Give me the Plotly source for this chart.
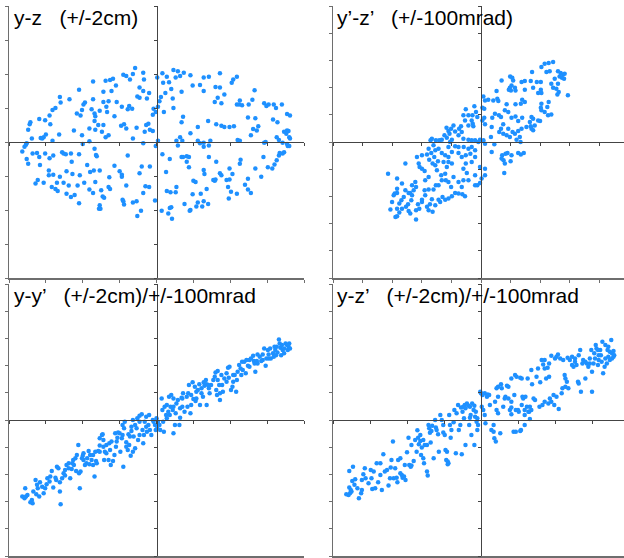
import plotly.graph_objects as go

# ---------------- data ----------------
# panel 1: y-z (cm)
yz_y = [-0.29,-0.32,-0.18,-0.41,-0.45,-0.36,-0.17,-0.59,-0.63,-0.69,-0.55,-0.86,-0.61,-1.05,-0.72,-0.23,-0.18,-0.10,-0.26,-0.23,
        -0.13,-1.31,-1.18,-0.72,-0.65,-0.54,-0.86,-0.97,-0.99,-1.30,-1.37,-1.41,-0.68,-0.47,-0.37,-0.33,-0.39,-0.88,-1.01,-0.84,
        -0.83,-1.03,-1.08,-0.57,-0.67,-0.77,-0.04,-0.05,-1.45,-1.51,-1.59,-1.44,-1.71,-1.72,-1.74,-1.12,-0.91,-0.83,-0.79,-0.72,
        -0.74,-0.48,-0.44,-0.41,-0.27,-0.14,-0.11,-0.09,-0.05,-0.16,-1.32,-1.53,-1.57,-1.55,-1.50,-1.69,-1.41,-0.91,-0.69,-0.65,
        -0.32,-0.84,-1.01,
        0.23,0.29,0.37,0.08,0.01,0.14,0.26,0.32,0.46,0.64,0.71,0.86,1.04,1.09,1.02,0.09,0.17,0.12,0.06,0.20,
        0.34,0.49,0.59,0.64,0.80,0.86,0.83,0.92,0.79,0.88,1.13,1.33,1.30,1.09,1.12,1.16,1.25,1.46,1.49,1.52,
        1.59,1.70,1.62,0.04,0.02,0.22,0.23,-0.01,0.10,0.36,0.34,0.56,0.70,0.81,0.88,0.92,0.99,1.05,1.24,1.34,
        1.38,1.31,1.28,1.36,1.58,1.64,1.77,1.81,1.77,1.79,1.76,1.73,1.80,1.81,1.66,1.63,1.48,0.32,0.46,0.56,
        0.73,0.64,1.10,1.13,0.02,0.27,1.71,1.80,
        -1.82,-1.77,-1.76,-1.79,-1.76,-1.74,-1.68,-1.62,-1.59,-1.58,-1.51,-1.45,-1.40,-1.46,-1.46,-1.40,-1.64,-1.61,-1.35,-1.42,
        -1.34,-1.37,-1.28,-1.26,-1.23,-1.16,-1.05,-1.00,-1.15,-1.22,-1.14,-1.19,-1.07,-1.04,-0.98,-0.94,-0.90,-0.84,-0.82,-0.81,
        -0.77,-0.85,-0.83,-0.75,-0.73,-0.71,-0.77,-0.78,-0.76,-0.65,-0.63,-0.64,-0.57,-0.50,-0.47,-0.47,-0.41,-0.46,-0.45,-0.44,
        -0.39,-0.20,-0.23,-0.15,-0.18,-0.10,-0.32,-0.27,-0.21,-0.26,-0.02,-0.09,-0.01,-0.18,-1.11,-1.16,-1.05,-0.91,-0.86,-1.26,
        -1.22,-1.53,-1.31,
        0.08,0.13,0.18,0.29,0.34,0.36,0.41,0.44,0.41,0.44,0.49,0.50,0.53,0.59,0.64,0.71,0.64,0.65,0.60,0.56,
        0.64,0.68,0.70,0.71,0.77,0.79,0.80,0.81,0.86,0.88,0.95,0.99,0.97,1.01,1.09,1.03,0.99,1.13,1.24,1.20,
        1.24,1.14,1.34,1.42,1.45,1.51,1.57,1.60,1.63,1.66,1.71,1.73,1.78,1.67,0.07,0.16,0.20,0.18,0.21,0.27,
        0.14,0.19,0.26,0.38,0.46,0.45,0.54,0.62,0.98,1.28,0.35,1.46,1.77]
yz_z = [1.09,1.00,1.02,0.97,0.99,0.92,0.92,0.93,0.91,0.90,0.83,0.89,0.75,0.77,0.74,0.80,0.75,0.72,0.67,0.65,
        0.64,0.66,0.63,0.59,0.60,0.59,0.63,0.58,0.55,0.58,0.50,0.47,0.52,0.52,0.53,0.49,0.48,0.48,0.47,0.42,
        0.38,0.39,0.42,0.38,0.44,0.46,0.49,0.40,0.39,0.32,0.34,0.26,0.29,0.26,0.18,0.17,0.20,0.18,0.25,0.25,
        0.15,0.24,0.26,0.20,0.21,0.25,0.27,0.18,0.16,0.15,0.11,0.07,0.06,0.05,0.11,0.05,0.02,0.01,0.07,0.10,
        0.05,0.31,0.10,
        1.06,1.04,1.02,1.01,0.95,0.96,0.95,0.97,0.98,0.95,0.96,1.01,0.92,0.96,0.87,0.87,0.88,0.72,0.66,0.78,
        0.74,0.83,0.84,0.75,0.81,0.80,0.65,0.70,0.59,0.57,0.61,0.76,0.62,0.55,0.55,0.54,0.55,0.57,0.53,0.55,
        0.55,0.55,0.50,0.60,0.52,0.64,0.50,0.44,0.44,0.37,0.29,0.22,0.31,0.26,0.24,0.22,0.22,0.23,0.36,0.35,
        0.23,0.19,0.10,0.17,0.33,0.29,0.41,0.39,0.17,0.16,0.12,0.15,0.07,0.05,0.03,0.07,0.00,0.07,0.13,0.02,
        0.02,-0.01,0.03,0.02,0.02,0.02,-0.01,-0.06,
        -0.14,-0.04,-0.02,-0.07,-0.25,-0.32,-0.17,-0.16,-0.22,-0.34,-0.17,-0.24,-0.20,-0.42,-0.49,-0.48,-0.61,-0.56,-0.60,-0.66,
        -0.72,-0.69,-0.15,-0.17,-0.18,-0.17,-0.18,-0.03,-0.29,-0.43,-0.47,-0.64,-0.64,-0.49,-0.60,-0.34,-0.44,-0.10,-0.19,-0.21,
        -0.42,-0.42,-0.59,-0.71,-0.80,-0.82,-0.93,-0.98,-0.98,-0.66,-0.69,-0.52,-0.35,-0.43,-0.48,-0.51,-0.64,-0.85,-0.87,-0.92,
        -0.20,-0.36,-0.46,-0.65,-0.75,-0.66,-0.89,-0.87,-1.01,-1.09,-0.86,-0.36,-0.06,-0.02,-0.78,-0.81,-0.90,-0.70,-0.75,-0.60,
        -0.76,-0.60,-0.51,
        -0.18,-0.44,-0.25,-0.05,-0.22,-0.22,-0.21,-0.22,-0.29,-0.37,-0.77,-0.57,-0.59,-0.02,-0.07,-0.05,-0.41,-0.47,-0.76,-0.89,
        -0.87,-0.69,-0.91,-0.22,-0.56,-0.57,-0.55,-0.29,-0.46,-0.49,-0.56,-0.55,-0.66,-0.73,-0.76,-0.47,-0.39,-0.32,-0.54,-0.63,
        -0.70,-0.26,-0.39,-0.51,-0.22,-0.37,-0.39,-0.33,-0.27,-0.20,-0.17,-0.15,-0.06,-0.16,-1.01,-1.05,-0.96,-0.97,-1.13,-0.66,
        -0.72,-0.74,-0.74,-0.91,-1.00,-1.01,-0.95,-0.95,-0.83,-0.75,0.02,-0.01,-0.03]

# panel 2: y'-z' (mrad)
ypzp_yp = [48.7,45.7,43.0,40.8,44.2,46.4,52.0,53.8,55.4,56.5,54.7,56.1,49.8,53.1,34.5,33.6,29.6,27.4,19.7,21.1,
           21.7,13.9,20.6,19.5,22.9,23.3,20.2,18.8,40.4,37.7,47.5,48.7,50.9,52.0,52.5,51.6,58.7,29.6,35.2,40.4,
           38.6,40.8,10.5,8.3,11.0,11.7,4.9,1.6,2.7,27.8,26.9,29.6,23.3,17.3,40.8,40.4,40.8,45.7,44.8,43.0,
           47.5,45.3,9.4,12.1,16.1,18.4,20.6,23.3,27.8,25.1,34.1,35.2,38.6,39.9,36.3,34.1,35.2,33.6,33.0,30.7,
           27.4,25.1,22.9,26.2,26.7,24.0,21.3,18.4,15.0,13.5,12.3,15.0,17.3,19.5,13.5,7.6,7.2,6.7,9.0,7.2,
           0.9,2.2,2.7,0.9,2.2,-4.5,-3.4,-2.5,-0.7,1.6,2.7,14.3,16.6,17.9,20.6,25.1,26.9,28.9,13.9,15.2,
           16.1,20.0,15.7,-0.7,2.7,2.7,0.4,-0.7,-2.5,-4.0,
           -10.3,-8.5,-5.8,-11.9,-10.8,-6.3,-5.6,-8.5,-5.2,-13.5,-14.8,-18.6,-20.2,-23.3,-22.0,-21.3,-17.5,-13.0,-15.2,-11.9,
           -8.5,-6.3,-4.0,-1.8,-6.3,-4.0,-8.5,-11.7,-15.2,-17.5,-20.9,-19.7,-23.1,-24.7,-26.5,-28.2,-30.5,-33.2,-34.1,-32.1,
           -35.4,-30.9,-28.7,-26.5,-22.0,-24.2,-22.0,-19.7,-15.2,-13.0,-10.3,-7.2,-4.0,-6.3,-10.3,-11.9,-9.6,-4.0,-8.5,-11.9,
           -15.2,-13.0,-17.5,-15.2,-12.6,-10.8,-19.7,-22.0,-24.2,-26.0,-27.6,-28.7,-33.2,-34.5,-36.5,-35.4,-32.7,-30.9,-32.1,-35.4,
           -38.1,-37.7,-39.9,-37.7,-35.4,-38.1,-39.9,-32.7,-30.9,-29.8,-26.9,-24.2,-23.1,-25.3,-22.0,-19.7,-23.8,-22.0,-18.6,-20.2,
           -28.7,-30.5,-26.5,-42.1,-43.3,-39.9,-36.5,-35.0,-33.6,-31.6,-29.1,-41.5,-44.4,-43.9,-46.6,-45.5,-48.9,-51.1,-47.8,-46.6,
           -47.1,-49.3,-50.7,-48.9,-47.8,-43.9,-41.7,-43.9,-42.6,-39.9,-52.2,-53.8,-56.7,-58.3,-59.0,-55.2,-53.4,-56.7,-55.2,-57.8,
           -56.7,-60.1,-61.2,-62.8,-56.7,-56.7,-53.4,-51.1]
ypzp_zp = [58.8,58.0,57.5,55.1,51.4,52.1,52.1,50.7,49.7,50.2,47.2,46.5,46.5,48.2,51.4,44.8,44.8,44.1,48.2,47.2,
           45.3,45.3,41.6,39.9,39.9,37.9,37.9,38.4,44.1,44.1,42.8,39.9,39.2,42.8,36.7,35.0,34.3,38.4,39.9,38.4,
           36.0,36.0,37.5,30.6,31.8,30.1,31.1,33.5,30.6,31.1,28.2,29.4,27.7,27.7,28.2,25.2,23.3,29.4,25.7,22.0,
           20.3,19.6,20.8,19.6,23.3,22.0,17.9,18.8,17.9,15.4,18.4,17.1,15.9,15.4,12.2,9.8,8.6,11.5,14.7,11.0,
           9.8,8.1,6.1,3.7,0.0,1.7,7.3,9.8,13.0,9.8,7.3,6.1,4.9,3.7,18.4,17.9,11.0,3.7,-1.7,-7.3,
           15.9,17.9,13.0,25.2,24.5,26.2,22.0,18.4,1.7,1.2,-1.2,-9.8,-8.6,-8.1,-9.8,-8.1,-9.1,-8.1,-12.2,-13.5,
           -15.9,-14.2,-22.8,-18.4,-19.6,-24.5,-26.9,-30.1,-31.8,-31.8,
           24.0,19.6,19.6,19.6,15.9,15.9,13.5,12.2,11.5,11.5,9.8,12.2,9.8,10.5,8.1,6.1,7.8,7.3,4.9,2.4,
           1.7,1.2,1.2,0.0,-3.7,-6.1,-4.9,-3.7,-3.7,-3.2,0.0,1.7,3.2,4.9,1.7,1.2,1.2,2.4,1.2,-2.4,
           -4.9,-6.1,-4.9,-8.1,-3.7,-9.8,-11.0,-7.3,-8.1,-11.0,-9.8,-8.6,-11.0,-14.7,-15.9,-19.6,-22.8,-24.5,-28.2,-28.2,
           -29.4,-33.0,-37.5,-37.9,-38.4,-39.9,-39.9,-41.6,-42.4,-40.4,-44.1,-42.4,-42.1,-45.8,-47.7,-50.2,-51.2,-46.5,-35.0,-35.0,
           -35.5,-39.2,-42.4,-28.2,-25.7,-21.3,-19.6,-15.9,-17.1,-20.8,-24.5,-23.3,-18.4,-14.7,-14.7,-15.9,-28.2,-29.4,-25.7,-33.0,
           -31.8,-31.8,-28.2,-15.9,-11.0,-9.8,-9.1,-13.0,-8.1,-11.0,-14.2,-18.4,-29.4,-33.0,-31.8,-35.5,-37.5,-35.5,-37.5,-39.2,
           -42.8,-45.8,-47.7,-50.7,-52.6,-57.0,-49.0,-50.2,-45.8,-44.1,-40.4,-42.8,-37.5,-37.9,-39.2,-45.3,-49.0,-49.0,-51.9,-55.1,
           -54.6,-44.1,-49.7,-23.3,-26.9,-34.3,-30.6,-15.9]

# panel 3: y-y' (cm, mrad)
yyp_y = [-1.82,-1.79,-1.77,-1.78,-1.75,-1.71,-1.68,-1.69,-1.64,-1.62,-1.61,-1.59,-1.58,-1.55,-1.53,-1.49,-1.48,-1.45,-1.42,-1.40,
         -1.37,-1.35,-1.33,-1.31,-1.30,-1.31,-1.28,-1.26,-1.24,-1.22,-1.19,-1.17,-1.15,-1.14,-1.13,-1.10,-1.09,-1.08,-1.06,-1.05,
         -1.04,-1.03,-1.01,-1.00,-0.99,-0.97,-0.95,-0.92,-0.91,-0.90,-0.88,-0.86,-0.84,-0.83,-0.82,-0.81,-0.79,-0.77,-0.77,-0.74,
         -0.73,-0.72,-0.71,-0.70,-0.68,-0.68,-0.65,-0.64,-0.63,-0.62,-0.59,-0.57,-0.56,-0.55,-0.54,-0.52,-0.50,-0.49,-0.47,-0.46,
         -0.45,-0.44,-0.43,-0.41,-0.41,-0.39,-0.38,-0.37,-0.36,-0.35,-0.34,-0.32,-0.32,-0.31,-0.29,-0.27,-0.26,-0.25,-0.23,-0.23,
         -0.20,-0.19,-0.18,-0.17,-0.16,-0.14,-0.13,-0.11,-0.10,-0.09,-0.07,-0.05,-0.04,-0.02,-0.01,0.00,0.01,0.02,0.04,0.05,
         0.07,0.08,0.09,0.10,0.11,0.13,0.14,0.16,0.17,0.18,0.19,0.20,0.22,0.23,0.23,0.25,0.26,0.27,0.29,0.31,
         0.32,0.32,0.34,0.35,0.36,0.38,0.41,0.42,0.43,0.44,0.46,0.47,0.49,0.50,0.52,0.53,0.54,0.56,0.58,0.59,
         0.61,0.63,0.64,0.65,0.67,0.68,0.68,0.70,0.71,0.72,0.77,0.79,0.80,0.81,0.82,0.83,0.85,0.86,0.86,0.88,
         0.89,0.90,0.92,0.95,0.97,0.98,0.99,1.01,1.03,1.04,1.06,1.08,1.09,1.12,1.14,1.15,1.16,1.19,1.21,1.22,
         1.24,1.26,1.28,1.31,1.32,1.33,1.34,1.36,1.37,1.40,1.42,1.44,1.46,1.48,1.49,1.51,1.52,1.54,1.55,1.58,
         1.59,1.60,1.61,1.63,1.64,1.67,1.68,1.69,1.70,1.71,1.73,1.75,1.77,1.78,1.79,1.80,1.81,1.66,
         -1.67,-1.63,-1.51,-1.44,-1.36,-1.24,-1.19,-1.12,-0.99,-0.94,-0.86,-0.77,-0.72,-0.61,-0.53,-0.46,-0.34,-0.29,-0.23,-0.14,
         0.14,0.23,0.35,0.47,0.54,0.61,0.74,0.83,0.95,1.04,1.10,1.17,1.26,1.37,1.44,1.52,1.62,1.73,1.78]
yyp_yp = [-56.3,-57.5,-56.3,-50.2,-55.1,-60.5,-61.2,-58.8,-44.1,-47.7,-50.2,-56.3,-45.8,-49.0,-53.9,-47.2,-42.8,-45.3,-37.5,-49.7,
          -42.4,-34.3,-35.5,-45.8,-61.9,-52.6,-42.8,-39.2,-36.7,-33.0,-31.8,-42.8,-36.0,-31.8,-29.4,-28.2,-37.5,-25.7,-18.4,-39.2,
          -50.2,-37.9,-28.2,-26.2,-24.5,-33.0,-31.8,-22.8,-32.6,-25.7,-29.4,-33.0,-41.6,-23.3,-30.1,-31.8,-22.8,-18.8,-13.5,-11.0,
          -10.5,-14.7,-29.4,-23.3,-18.4,-24.5,-29.4,-17.1,-22.0,-33.0,-30.1,-25.7,-9.8,-19.6,-15.9,-9.1,-9.8,-23.3,-13.5,-3.7,
          -34.3,-6.1,-1.2,-19.6,-16.4,-22.0,-10.5,-18.4,-12.2,-26.2,-4.9,-23.3,0.0,-12.2,-20.8,-6.1,1.2,-14.7,3.2,-11.0,
          4.2,-7.3,-17.1,-11.0,-1.2,-4.9,-8.6,-3.7,3.7,-7.3,-11.0,0.0,-1.2,-3.7,-7.3,1.2,-6.1,-1.2,-3.7,-7.3,
          15.9,7.3,-1.2,-8.6,9.8,3.7,11.0,6.1,17.1,3.7,9.8,18.4,7.3,-9.8,15.9,-3.7,4.9,12.2,14.7,-3.7,
          8.6,1.7,16.4,9.8,19.6,6.1,17.1,9.8,19.6,25.7,4.9,11.0,27.7,15.4,24.5,14.0,20.8,22.0,26.2,11.0,
          23.3,17.1,27.7,25.2,29.4,11.0,26.2,25.7,23.3,19.6,29.4,31.8,35.0,22.0,18.4,36.0,25.7,14.7,19.6,33.0,
          25.7,20.8,30.6,34.3,38.4,31.1,39.2,22.0,24.5,28.2,33.0,20.8,29.4,40.4,37.9,33.0,42.8,42.8,34.3,44.1,
          39.9,39.2,45.3,47.2,43.3,41.6,35.5,43.3,48.2,46.5,43.3,48.2,52.6,39.9,45.3,51.4,48.2,52.6,45.3,49.0,
          46.5,53.9,51.4,53.9,49.7,56.3,53.1,47.7,55.1,51.4,52.6,56.3,55.1,51.4,53.9,56.3,52.6,59.2,
          -52.6,-54.6,-50.2,-41.6,-44.1,-40.9,-35.5,-33.0,-29.4,-28.2,-25.7,-23.3,-19.6,-15.9,-13.0,-11.0,-8.1,-3.7,-1.2,2.4,
          1.2,9.8,15.9,18.4,15.9,19.6,25.7,29.4,28.2,33.0,35.5,36.7,44.1,41.6,44.1,45.3,47.7,49.0,55.1]

# panel 4: y-z' (cm, mrad)
yzp_y = [-1.82,-1.79,-1.77,-1.75,-1.78,-1.76,-1.78,-1.73,-1.74,-1.70,-1.67,-1.65,-1.62,-1.61,-1.59,-1.57,-1.56,-1.52,-1.49,-1.45,
         -1.47,-1.43,-1.41,-1.39,-1.36,-1.34,-1.32,-1.30,-1.27,-1.25,-1.22,-1.21,-1.19,-1.18,-1.16,-1.14,-1.13,-1.12,-1.09,-1.07,
         -1.06,-1.04,-1.02,-1.00,-0.98,-0.97,-0.95,-0.94,-0.91,-0.87,-0.86,-0.85,-0.84,-0.82,-0.81,-0.80,-0.78,-0.77,-0.76,-0.73,
         -0.72,-0.71,-0.70,-0.69,-0.68,-0.67,-0.64,-0.62,-0.60,-0.58,-0.57,-0.55,-0.53,-0.51,-0.49,-0.46,-0.45,-0.44,-0.43,-0.42,
         -0.40,-0.37,-0.36,-0.34,-0.33,-0.31,-0.30,-0.28,-0.27,-0.26,-0.24,-0.23,-0.22,-0.21,-0.19,-0.17,-0.16,-0.15,-0.14,-0.13,
         -0.12,-0.10,-0.09,-0.08,-0.06,-0.05,
         -0.01,0.00,0.02,0.05,0.05,0.06,0.08,0.09,0.11,0.12,0.14,0.17,0.18,0.19,0.20,0.21,0.23,0.26,0.27,0.28,
         0.30,0.32,0.33,0.35,0.37,0.39,0.41,0.41,0.44,0.45,0.46,0.47,0.48,0.50,0.51,0.53,0.54,0.55,0.56,0.57,
         0.59,0.59,0.60,0.62,0.63,0.65,0.66,0.68,0.69,0.71,0.73,0.75,0.77,0.79,0.80,0.82,0.83,0.84,0.86,0.88,
         0.90,0.92,0.92,0.93,0.95,0.98,0.99,1.00,1.02,1.04,1.05,1.07,1.09,1.10,1.11,1.13,1.14,1.16,1.17,1.18,
         1.20,1.23,1.25,1.27,1.29,1.31,1.32,1.34,1.35,1.37,1.38,1.41,1.43,1.45,1.47,1.49,1.50,1.50,1.52,1.53,
         1.55,1.56,1.58,1.59,1.61,1.62,1.63,1.64,1.65,1.67,1.68,1.70,1.71,1.72,1.74,1.76,1.77,1.77,1.79,1.80,
         -0.94,-0.89,-0.82,-0.78,-0.73,-0.66,-0.61,-0.51,-0.48,-0.47,-0.45,-0.41,-0.25,-0.21,-0.15,-0.09,-0.07,-0.05,-0.04,-1.09,
         -1.03,-1.23,-1.36,-1.48,-1.61,-1.71,0.23,0.21,0.23,0.37,0.41,0.47,0.64,0.68,0.66,0.86,0.91,1.02,1.14,1.23,
         1.27,1.32,1.47,1.54,1.59,1.68,1.74,1.79,1.72,1.58,1.41,0.59,0.53,0.17,0.03,0.01,0.41,0.55,0.95,0.86]
yzp_zp = [-54.6,-55.1,-53.9,-52.6,-49.7,-51.4,-37.5,-34.3,-44.8,-43.6,-50.2,-57.5,-53.9,-51.4,-39.9,-35.5,-42.8,-46.5,-36.7,-37.9,
          -50.7,-50.2,-31.8,-45.8,-40.4,-51.4,-25.2,-37.9,-36.7,-48.2,-35.0,-29.4,-15.9,-42.8,-35.5,-42.4,-45.8,-29.4,-28.2,-40.4,
          -42.4,-41.6,-44.1,-23.7,-13.0,-33.0,-34.3,-33.5,-30.1,-23.3,-7.6,-13.0,-17.9,-15.4,-25.7,-20.3,-28.2,-31.8,-18.4,-37.9,
          -40.9,-3.7,-6.1,-9.3,-16.6,-8.1,-28.2,0.0,-7.3,-10.5,-23.3,3.7,0.0,-9.1,-11.0,-23.3,-30.6,-31.8,3.7,-3.7,
          -7.3,-1.7,7.3,-24.5,4.9,11.0,-7.3,-3.7,9.1,-25.2,9.8,1.2,11.0,-18.4,12.2,10.5,-3.7,1.7,3.7,-11.0,
          12.2,7.3,-18.4,2.4,-1.2,-7.3,
          20.8,19.6,18.4,19.6,3.7,-2.4,17.1,18.8,18.4,11.0,-7.3,-8.6,-13.5,13.5,-15.9,23.3,24.5,-9.8,26.2,23.3,
          9.8,15.9,17.1,25.2,24.5,7.3,9.1,4.2,-8.6,18.4,33.0,-8.6,31.8,7.3,6.1,31.1,-7.3,11.0,17.1,15.9,
          7.3,3.7,17.1,9.8,30.6,6.1,0.7,36.7,26.2,15.9,14.7,31.8,37.9,9.8,27.7,44.1,11.0,40.9,37.9,30.6,
          38.4,31.8,41.6,15.9,13.5,18.4,11.0,45.3,46.5,48.2,8.1,45.3,19.6,23.3,44.1,33.0,30.6,28.2,45.8,23.3,
          44.1,46.5,39.2,45.3,40.4,28.2,26.9,51.4,20.8,41.6,44.1,30.6,41.6,39.2,45.3,51.4,35.5,20.8,41.6,49.0,
          55.1,52.6,40.4,44.1,51.4,47.7,42.8,57.5,34.3,39.2,55.1,41.6,51.4,46.5,50.2,58.8,49.0,45.3,50.7,47.7,
          -18.4,-14.7,-11.0,-14.7,-18.4,-4.2,-5.6,-3.7,-22.0,-29.4,-32.6,-13.0,6.1,8.6,9.8,10.5,6.1,1.2,-3.7,-39.2,
          -33.0,-42.8,-31.8,-42.8,-44.1,-47.7,17.1,7.3,4.9,15.9,13.5,7.3,6.1,7.3,9.8,13.5,12.2,17.1,24.5,40.4,
          42.8,47.7,41.6,45.3,47.7,45.3,44.1,46.5,53.9,51.4,42.8,-3.7,-8.1,-3.7,7.3,9.8,30.6,30.6,47.2,44.1]

titles = ["y-z   (+/-2cm)", "y\u2019-z\u2019   (+/-100mrad)",
          "y-y\u2019   (+/-2cm)/+/-100mrad", "y-z\u2019   (+/-2cm)/+/-100mrad"]

# ---------------- layout geometry ----------------
W, H = 624, 558
def px(x): return x / W
def py(y): return 1 - y / H

panels = [
    # (xs, ys, xdomain, ydomain, xrange, yrange, dtx, dty, title_pos)
    (yz_y, yz_z, [px(9), px(304)], [py(278), py(6)], [-2, 2], [-2, 2], 0.5, 0.5, (12, 17)),
    (ypzp_yp, ypzp_zp, [px(333), 1.0], [py(278), py(6)], [-100, 96.6], [-100, 100], 20, 20, (335, 17)),
    (yyp_y, yyp_yp, [px(9), px(304)], [py(556), py(284)], [-2, 2], [-100, 100], 0.5, 20, (12, 295)),
    (yzp_y, yzp_zp, [px(333), 1.0], [py(556), py(284)], [-2, 1.932], [-100, 100], 0.5, 20, (335, 295)),
]

FRAME = "#6e6e6e"
CROSS = "#444444"
DOT = "#1E90FF"

fig = go.Figure()
layout = dict(width=W, height=H, autosize=False, margin=dict(l=0, r=0, t=0, b=0),
              paper_bgcolor="white", plot_bgcolor="white", showlegend=False)
annotations = []

for i, (xs, ys, xd, yd, xr, yr, dtx, dty, tpos) in enumerate(panels):
    n = i + 1
    xa = "x" if n == 1 else f"x{n}"
    ya = "y" if n == 1 else f"y{n}"
    fig.add_trace(go.Scatter(x=xs, y=ys, mode="markers", xaxis=xa, yaxis=ya,
                             marker=dict(color=DOT, size=4.5, line=dict(width=0)),
                             hoverinfo="skip"))
    # empty trace so the origin-crossing axes get drawn
    fig.add_trace(go.Scatter(x=[None], y=[None], mode="markers", xaxis=f"x{n + 4}", yaxis=f"y{n + 4}",
                             hoverinfo="skip", showlegend=False))
    common = dict(showgrid=False, zeroline=False, showticklabels=False,
                  ticks="outside", ticklen=3, tickwidth=1, fixedrange=True)
    layout[f"xaxis{'' if n == 1 else n}"] = dict(domain=xd, range=xr, anchor=ya, dtick=dtx, tick0=0,
                                                 showline=True, linecolor=FRAME, linewidth=1.5,
                                                 tickcolor=FRAME, **common)
    layout[f"yaxis{'' if n == 1 else n}"] = dict(domain=yd, range=yr, anchor=xa, dtick=dty, tick0=0,
                                                 showline=True, linecolor=FRAME, linewidth=1.5,
                                                 tickcolor=FRAME, **common)
    # cross axes through the origin
    ypos = yd[0] + (0 - yr[0]) / (yr[1] - yr[0]) * (yd[1] - yd[0])
    xpos = xd[0] + (0 - xr[0]) / (xr[1] - xr[0]) * (xd[1] - xd[0])
    layout[f"xaxis{n + 4}"] = dict(overlaying=xa, anchor="free", position=ypos, range=xr, dtick=dtx, tick0=0,
                                   showline=True, linecolor=CROSS, linewidth=1.2, tickcolor=CROSS,
                                   side="bottom", **common)
    layout[f"yaxis{n + 4}"] = dict(overlaying=ya, anchor="free", position=xpos, range=yr, dtick=dty, tick0=0,
                                   showline=True, linecolor=CROSS, linewidth=1.2, tickcolor=CROSS,
                                   side="left", **common)
    annotations.append(dict(text=titles[i], x=px(tpos[0]), y=py(tpos[1]), xref="paper", yref="paper",
                            xanchor="left", yanchor="middle", showarrow=False,
                            font=dict(family="Liberation Sans, Arial, sans-serif", size=21, color="black")))

layout["annotations"] = annotations
fig.update_layout(**layout)
fig.write_html("out.html", config={"displayModeBar": False, "staticPlot": True},
               post_script="document.body.style.margin='0';")
